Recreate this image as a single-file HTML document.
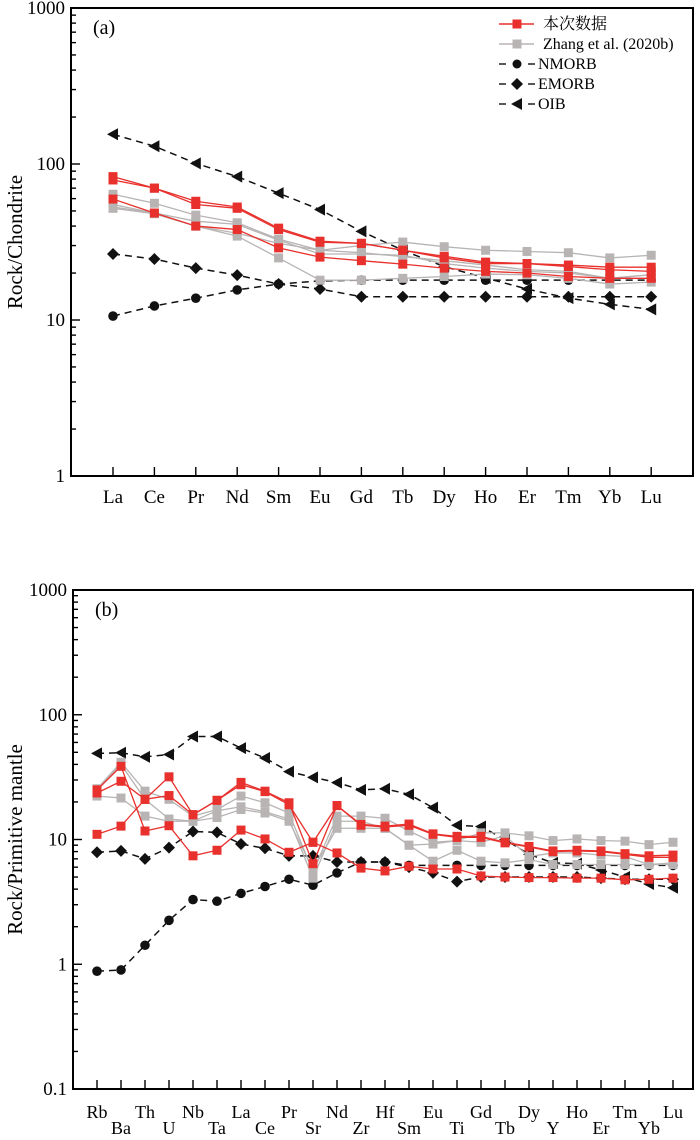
<!DOCTYPE html>
<html><head><meta charset="utf-8"><style>
html,body{margin:0;padding:0;background:#fff;}
svg{display:block;font-family:"Liberation Serif","Noto Serif CJK SC",serif;}
</style></head><body>
<svg id="chart" width="700" height="1140" viewBox="0 0 700 1140"></svg>
<script>
// ---- Panel (a) data: chondrite-normalised REE ----
const reeCats = ["La","Ce","Pr","Nd","Sm","Eu","Gd","Tb","Dy","Ho","Er","Tm","Yb","Lu"];
const aOIB   = [155,130,101,83,65,51,37,28,22,18.6,15.8,13.8,12.6,11.7];
const aNMORB = [10.6,12.3,13.8,15.6,17,17.8,18,18,18,18,18,18,18,18];
const aEMORB = [26.5,24.6,21.5,19.4,17,15.8,14.1,14.1,14.1,14.1,14.1,14.1,14.1,14.1];
const aRed1 = [83,70,57.7,53,38.8,32,31,28,25.6,23.5,23,22.5,21.8,21.8];
const aRed2 = [79,70,55,52,38,31.5,31,28,25,23,23,22,21,20.5];
const aRed3 = [59.6,48.5,40,38,29,25.3,24,22.8,21.5,20.5,20,19,18.5,18.5];
const aGrey1 = [64,56,47,42,33,28,30,31.6,29.5,28,27.5,27,25,26];
const aGrey2 = [55,48.5,43,41,32.5,26.5,26.5,26,23,21.5,20.5,20,18.5,19.5];
const aGrey3 = [53,48.5,40,34.5,25,18,18,18.5,19,19.7,19.5,18.5,17,17.5];
const aGrey4 = [52,48,40,36,31,28,27,25.5,24,22.5,21,20.5,18.5,19.5];
const aYTicks = [1,10,100,1000];

// ---- Panel (b) data: primitive-mantle-normalised trace elements ----
const trCats = ["Rb","Ba","Th","U","Nb","Ta","La","Ce","Pr","Sr","Nd","Zr","Hf","Sm","Eu","Ti","Gd","Tb","Dy","Y","Ho","Er","Tm","Yb","Lu"];
const bOIB   = [49,49.6,46,48,67,67,54,45,35,31.5,28.6,25,25.5,23,18,13,12.7,10,7.6,6.5,6.4,5.7,5,4.4,4.1];
const bNMORB = [0.88,0.9,1.42,2.25,3.3,3.2,3.7,4.2,4.8,4.3,5.4,6.6,6.6,6.2,6.2,6.2,6.2,6.2,6.2,6.2,6.2,6.2,6.2,6.2,6.2];
const bEMORB = [7.9,8.1,7.0,8.6,11.6,11.4,9.2,8.5,7.4,7.4,6.6,6.6,6.6,6,5.4,4.6,5.0,5.0,5.0,5.0,5.0,4.9,4.8,4.8,4.8];
const bRed1 = [25,38.6,11.7,12.9,7.4,8.2,11.9,10.1,7.9,9.5,7.8,5.9,5.6,6.1,5.8,5.8,5.1,5.0,4.95,4.95,4.9,4.9,4.75,4.8,4.9];
const bRed2 = [23.6,29.3,21,22.5,15.8,20.6,28.7,24.4,19.7,6.4,18.7,13.2,12.8,13.3,11.1,10.6,10.6,9.5,8.8,8.1,8.2,8.1,7.7,7.4,7.5];
const bRed3 = [11,12.8,21,31.8,15.8,20.6,27.5,24.2,19,9.5,18.7,13,12.6,13,11,10.4,10.4,9.4,8.7,8.0,8.1,8.0,7.6,7.2,7.2];
const bGrey1 = [25.5,41.6,24.4,21,15.4,17.4,22.3,19.7,16.3,5.5,15.4,15.4,14.8,11.7,9.5,9.8,11.3,11.3,10.7,9.8,10.1,9.8,9.7,9.1,9.5];
const bGrey2 = [25,40,21,14.6,14,17,18.3,16.7,14.6,4.9,14,14,12.3,9,9.2,9.8,9.5,10.7,7.3,7.8,7.8,7.5,7.3,6.3,6.5];
const bGrey3 = [22.3,21.5,15.4,14,14,15,17.4,16.3,14,5.8,12.3,12.3,12.3,9,6.7,8.2,6.7,6.5,6.9,6.3,6.3,6.3,6.3,6.3,6.3];
const bYTicks = [0.1,1,10,100,1000];

const NS="http://www.w3.org/2000/svg";
const svg=document.getElementById('chart');
function mk(tag,attrs,parent){const e=document.createElementNS(NS,tag);for(const k in attrs)e.setAttribute(k,attrs[k]);(parent||svg).appendChild(e);return e;}

const RED="#e8302c", GREY="#b8b4b4";

function panel(cfg){
  const g=mk('g',{});
  
  
  const {L,R,T,B,yMin,yMax,x0,dx}=cfg;
  const ly0=Math.log10(yMin), ly1=Math.log10(yMax);
  const ys=v=>B-(Math.log10(v)-ly0)/(ly1-ly0)*(B-T);
  const xs=i=>x0+i*dx;
  for(let d=ly0; d<ly1; d++){
    for(let m=1;m<10;m++){
      const v=Math.pow(10,d)*m; const y=ys(v);
      const t=mk('line',{x1:L,x2:L+(m===1?9:5),y1:y,y2:y,stroke:'#000','stroke-width':1.4},g);
      
      
    }
  }
  cfg.yTicks.forEach(v=>{
    const t=mk('text',{x:L-6,y:ys(v)+6,'text-anchor':'end','font-size':19},g);
    t.textContent=String(v);
    
    
  });
  cfg.cats.forEach((c,i)=>{
    const x=xs(i);
    const t=mk('line',{x1:x,x2:x,y1:B,y2:B-9,stroke:'#000','stroke-width':1.4},g);
    
    
    const two=cfg.stagger;
    const ty= two ? (i%2===0?B+29:B+45) : B+27;
    const lb=mk('text',{x:x,y:ty,'text-anchor':'middle','font-size':cfg.stagger?18:19},g);
    lb.textContent=c;
    
    
  });
  const frame=mk('rect',{x:L,y:T,width:R-L,height:B-T,fill:'none',stroke:'#000','stroke-width':2},g);
  
  
  const yt=mk('text',{x:0,y:0,'text-anchor':'middle','font-size':21,transform:`translate(${cfg.titleX},${(T+B)/2}) rotate(-90)`},g);
  yt.textContent=cfg.yTitle;
  
  
  const pl=mk('text',{x:L+22,y:T+26,'font-size':20},g);
  pl.textContent=cfg.tag;
  
  

  function series(vals,kind,name){
    const sg=mk('g',{},g);
    
    
    const pts=vals.map((v,i)=>xs(i)+','+ys(v)).join(' ');
    const dashed=(kind==='circle'||kind==='diamond'||kind==='tri');
    const col=kind==='red'?RED:kind==='grey'?GREY:'#111';
    mk('polyline',{points:pts,fill:'none',stroke:col,'stroke-width':dashed?1.5:1.3,'stroke-dasharray':dashed?'7,5':'none'},sg);
    vals.forEach((v,i)=>{
      const x=xs(i),y=ys(v);let m;
      if(kind==='red'||kind==='grey') m=mk('rect',{x:x-4.5,y:y-4.5,width:9,height:9,fill:col},sg);
      else if(kind==='circle') m=mk('circle',{cx:x,cy:y,r:4.8,fill:'#111'},sg);
      else if(kind==='diamond') m=mk('polygon',{points:`${x},${y-6} ${x+6},${y} ${x},${y+6} ${x-6},${y}`,fill:'#111'},sg);
      else m=mk('polygon',{points:`${x-6},${y} ${x+5},${y-6} ${x+5},${y+6}`,fill:'#111'},sg);
      
      
    });
  }
  cfg.series.forEach(s=>series(s[0],s[1],s[2]));
  return g;
}

panel({name:'panel-a-chondrite',tag:'(a)',L:71,R:693,T:8,B:476,yMin:1,yMax:1000,x0:113,dx:41.4,
  cats:reeCats,yTicks:aYTicks,yTitle:'Rock/Chondrite',titleX:22,stagger:false,
  series:[[aNMORB,'circle','nmorb-series'],[aEMORB,'diamond','emorb-series'],[aOIB,'tri','oib-series'],
    [aGrey1,'grey','zhang-series-1'],[aGrey2,'grey','zhang-series-2'],[aGrey3,'grey','zhang-series-3'],[aGrey4,'grey','zhang-series-4'],
    [aRed1,'red','this-study-series-1'],[aRed2,'red','this-study-series-2'],[aRed3,'red','this-study-series-3']]});

panel({name:'panel-b-primitive-mantle',tag:'(b)',L:73,R:693,T:590,B:1089,yMin:0.1,yMax:1000,x0:97,dx:24,
  cats:trCats,yTicks:bYTicks,yTitle:'Rock/Primitive mantle',titleX:22,stagger:true,
  series:[[bNMORB,'circle','nmorb-series'],[bEMORB,'diamond','emorb-series'],[bOIB,'tri','oib-series'],
    [bGrey1,'grey','zhang-series-1'],[bGrey2,'grey','zhang-series-2'],[bGrey3,'grey','zhang-series-3'],
    [bRed1,'red','this-study-series-1'],[bRed2,'red','this-study-series-2'],[bRed3,'red','this-study-series-3']]});

const legendLabels=["本次数据","Zhang et al. (2020b)","NMORB","EMORB","OIB"];
const lg=mk('g',{});


legendLabels.forEach((t,i)=>{
  const y=24+i*20;
  const e=mk('g',{},lg);
  
  
  const col=i===0?RED:i===1?GREY:'#111';
  if(i<2) mk('line',{x1:499,x2:534,y1:y,y2:y,stroke:col,'stroke-width':1.4},e);
  else { mk('line',{x1:499,x2:506,y1:y,y2:y,stroke:col,'stroke-width':1.4},e); mk('line',{x1:528,x2:535,y1:y,y2:y,stroke:col,'stroke-width':1.4},e); }
  const x=517;
  if(i<2) mk('rect',{x:x-4.5,y:y-4.5,width:9,height:9,fill:col},e);
  else if(i===2) mk('circle',{cx:x,cy:y,r:4.5,fill:'#111'},e);
  else if(i===3) mk('polygon',{points:`${x},${y-6} ${x+6},${y} ${x},${y+6} ${x-6},${y}`,fill:'#111'},e);
  else mk('polygon',{points:`${x-6},${y} ${x+5},${y-6} ${x+5},${y+6}`,fill:'#111'},e);
  const tx=mk('text',{x:i<2?543:538,y:y+5,'font-size':16},e);
  tx.textContent=t;
});
</script>
</body></html>
